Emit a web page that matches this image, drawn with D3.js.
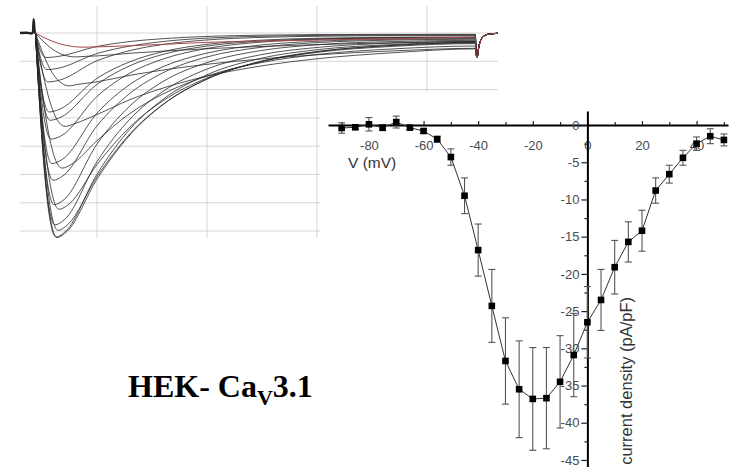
<!DOCTYPE html>
<html>
<head>
<meta charset="utf-8">
<script src="https://cdn.jsdelivr.net/npm/d3@7"></script>
<style>
body{margin:0;background:#fff;}
svg{display:block;}
</style>
</head>
<body>
<div id="chart"></div>
<script>
// ---- I-V relation (mean +/- sem) ----
var ivVoltage = [-90,-85,-80,-75,-70,-65,-60,-55,-50,-45,-40,-35,-30,-25,-20,-15,-10,-5,0,5,10,15,20,25,30,35,40,45,50];
var ivDensity = [-0.4,-0.3,0.1,-0.35,0.4,-0.35,-0.8,-1.9,-4.3,-9.5,-16.8,-24.3,-31.7,-35.5,-36.8,-36.7,-34.5,-30.9,-26.5,-23.5,-19.1,-15.7,-14.2,-8.8,-6.6,-4.4,-2.5,-1.5,-2.0];
var ivError   = [0.7,0.3,0.9,0.4,0.8,0.3,0.3,0.4,1.1,2.4,3.5,4.9,5.8,6.5,6.9,6.8,6.2,5.6,4.8,4.1,3.6,2.7,2.75,1.7,1.2,1.0,0.9,1.0,0.8];

var ivMajorX = [-80,-60,-40,-20,0,20,40];
var ivMinorX = [-90,-70,-50,-30,-10,10,30,50];
var ivMajorY = [0,-5,-10,-15,-20,-25,-30,-35,-40,-45];
var ivMinorY = [-2.5,-7.5,-12.5,-17.5,-22.5,-27.5,-32.5,-37.5,-42.5];

// ---- current traces: [time ms, current pA] ----
var gridTimes = [50,100,150,200];
var gridCurrents = [0,-200,-400,-600,-800,-1000,-1200,-1400];
var onsetArtifact = [[15,0],[18,2],[20.4,-3],[20.9,8],[21.2,98],[21.6,20],[22,0]];
var tailArtifact = [[222.4,-150],[222.8,-170],[223.6,-95],[225,-35],[227.5,-10],[232.3,-2]];

var trM55 = [[22,0],[26.3,-35],[32.8,-75],[39.3,-96],[43.6,-100],[50,-98],[65,-90],[80,-80],[100,-66],[125,-57],[150,-50],[185,-40],[222,-30]];
var trM50 = [[22,0],[25.6,-59],[31,-127],[36.4,-162],[40,-169],[44.5,-165],[50,-162],[65,-143],[80,-128],[100,-111],[125,-95],[150,-82],[185,-69],[222,-60]];
var trM45 = [[22,0],[25.1,-131],[29.6,-280],[34.2,-358],[37.3,-373],[41.8,-362],[50,-345],[65,-299],[80,-262],[100,-221],[125,-183],[150,-154],[185,-126],[222,-108]];
var trM40 = [[22,0],[24.7,-231],[28.8,-495],[32.8,-634],[35.5,-660],[40,-640],[50,-576],[65,-471],[80,-389],[100,-305],[125,-232],[150,-182],[185,-139],[222,-112]];
var trM35 = [[22,0],[24.4,-334],[28.1,-716],[31.7,-917],[34.1,-955],[38.6,-926],[50,-761],[65,-568],[80,-431],[100,-304],[125,-208],[150,-152],[185,-112],[222,-92]];
var trM30 = [[22,0],[24.1,-436],[27.4,-935],[30.6,-1196],[32.7,-1246],[37.3,-1209],[50,-930],[65,-664],[80,-479],[100,-318],[125,-201],[150,-137],[185,-94],[222,-75]];
var trM25 = [[22,0],[24.1,-488],[27.2,-1046],[30.2,-1339],[32.3,-1395],[36.8,-1353],[50,-1016],[65,-712],[80,-505],[100,-326],[125,-200],[150,-132],[185,-87],[222,-68]];
var trM20 = [[22,0],[24,-506],[26.9,-1084],[29.8,-1387],[31.8,-1445],[36.4,-1402],[50,-1033],[65,-720],[80,-506],[100,-325],[125,-198],[150,-131],[185,-87],[222,-69]];
var trM15 = [[22,0],[23.9,-505],[26.7,-1082],[29.5,-1384],[31.4,-1442],[35.9,-1399],[50,-998],[65,-679],[80,-469],[100,-295],[125,-177],[150,-118],[185,-81],[222,-66]];
var trM10 = [[22,0],[23.8,-475],[26.5,-1017],[29.1,-1302],[30.9,-1356],[35.5,-1315],[50,-909],[65,-608],[80,-413],[100,-255],[125,-152],[150,-102],[185,-71],[222,-60]];
var trM5  = [[22,0],[23.7,-425],[26.3,-911],[28.8,-1165],[30.5,-1214],[35,-1178],[50,-785],[65,-515],[80,-343],[100,-209],[125,-123],[150,-83],[185,-60],[222,-52]];
var tr0   = [[22,0],[23.6,-364],[26,-781],[28.4,-999],[30,-1041],[34.5,-1010],[50,-656],[65,-426],[80,-281],[100,-169],[125,-100],[150,-68],[185,-50],[222,-44]];
var trP5  = [[22,0],[23.5,-323],[25.8,-692],[28,-886],[29.5,-923],[34.1,-895],[50,-567],[65,-363],[80,-238],[100,-142],[125,-84],[150,-58],[185,-44],[222,-39]];
var trP10 = [[22,0],[23.4,-263],[25.6,-563],[27.7,-720],[29.1,-750],[33.6,-728],[50,-448],[65,-283],[80,-184],[100,-109],[125,-64],[150,-45],[185,-35],[222,-31]];
var trP15 = [[22,0],[23.3,-216],[25.3,-463],[27.3,-592],[28.6,-617],[33.2,-598],[50,-363],[65,-231],[80,-151],[100,-92],[125,-57],[150,-42],[185,-34],[222,-32]];
var trP20 = [[22,0],[23.2,-195],[25.1,-419],[27,-536],[28.2,-558],[32.7,-541],[50,-320],[65,-203],[80,-132],[100,-80],[125,-50],[150,-37],[185,-31],[222,-28]];
var trP25 = [[22,0],[23.1,-121],[24.9,-260],[26.6,-332],[27.7,-346],[32.3,-336],[50,-196],[65,-124],[80,-81],[100,-49],[125,-31],[150,-23],[185,-19],[222,-18]];
var trP30 = [[22,0],[23.1,-91],[24.7,-194],[26.2,-249],[27.3,-259],[31.8,-251],[50,-145],[65,-92],[80,-60],[100,-36],[125,-23],[150,-17],[185,-14],[222,-13]];
var trP35 = [[22,0],[23,-61],[24.4,-130],[25.8,-166],[26.8,-173],[31.4,-168],[50,-95],[65,-60],[80,-40],[100,-24],[125,-15],[150,-11],[185,-10],[222,-9]];

var blackTraces = [trM50,trM45,trM40,trM35,trM30,trM25,trM20,trM15,trM10,trM5,tr0,trP5,trP10,trP15,trP20,trP25,trP30,trP35];
var redTrace = trM55;

var svg = d3.select("#chart").append("svg")
    .attr("width", 735)
    .attr("height", 467);
svg.append("rect").attr("width", 735).attr("height", 467).attr("fill", "#fff");

// ===== traces panel =====
var tx = d3.scaleLinear().domain([15, 232.3]).range([20, 498]);
var ty = d3.scaleLinear().domain([191, -1449]).range([6, 238]);

var tg = svg.append("g");
tg.selectAll(".vgrid").data(gridTimes).enter().append("line")
    .attr("x1", tx).attr("x2", tx)
    .attr("y1", ty.range()[0]).attr("y2", ty.range()[1])
    .attr("stroke", "#d6d6d6").attr("stroke-width", 1);
tg.selectAll(".hgrid").data(gridCurrents).enter().append("line")
    .attr("x1", tx.range()[0]).attr("x2", tx.range()[1])
    .attr("y1", ty).attr("y2", ty)
    .attr("stroke", "#d6d6d6").attr("stroke-width", 1);

var traceLine = d3.line()
    .x(function(d){ return tx(d[0]); })
    .y(function(d){ return ty(d[1]); })
    .curve(d3.curveMonotoneX);

tg.append("path")
    .attr("d", traceLine(onsetArtifact))
    .attr("fill", "none").attr("stroke", "#222").attr("stroke-width", 2.4);

tg.selectAll(".trace").data(blackTraces).enter().append("path")
    .attr("d", function(d){ return traceLine(d.concat(tailArtifact)); })
    .attr("fill", "none")
    .attr("stroke", "#262626")
    .attr("stroke-opacity", 0.88)
    .attr("stroke-width", 0.9);

tg.append("path")
    .attr("d", traceLine(redTrace.concat(tailArtifact)))
    .attr("fill", "none").attr("stroke", "#a8454d").attr("stroke-width", 1);

// ===== I-V panel =====
svg.append("rect")
    .attr("x", 320).attr("y", 92).attr("width", 415).attr("height", 375)
    .attr("fill", "#fff");

var vx = d3.scaleLinear().domain([-95, 51.5]).range([328, 728]);
var vy = d3.scaleLinear().domain([1.9, -46]).range([110.9, 467.4]);

var ig = svg.append("g");
var fontFam = "'Liberation Sans', Arial, sans-serif";

// x axis (ticks point up, labels below)
var xAxis = ig.append("g")
    .attr("transform", "translate(0," + vy(0) + ")")
    .call(d3.axisBottom(vx)
        .tickValues(ivMajorX)
        .tickSizeInner(-4).tickSizeOuter(0).tickPadding(16)
        .tickFormat(function(d){ return String(d); }));
var xMinor = ig.append("g")
    .attr("transform", "translate(0," + vy(0) + ")")
    .call(d3.axisBottom(vx)
        .tickValues(ivMinorX)
        .tickSizeInner(-3).tickSizeOuter(0)
        .tickFormat(""));
xMinor.select(".domain").remove();

// y axis
var yAxis = ig.append("g")
    .attr("transform", "translate(" + vx(0) + ",0)")
    .call(d3.axisLeft(vy)
        .tickValues(ivMajorY)
        .tickSizeInner(6).tickSizeOuter(0).tickPadding(2)
        .tickFormat(function(d){ return String(d); }));
var yMinor = ig.append("g")
    .attr("transform", "translate(" + vx(0) + ",0)")
    .call(d3.axisLeft(vy)
        .tickValues(ivMinorY)
        .tickSizeInner(3).tickSizeOuter(0)
        .tickFormat(""));
yMinor.select(".domain").remove();

[xAxis, yAxis].forEach(function(a){
    a.select(".domain").attr("stroke", "#000").attr("stroke-width", 2);
    a.selectAll(".tick text")
        .attr("font-family", fontFam).attr("font-size", 13).attr("fill", "#4a4a4a");
});
ig.selectAll(".tick line").attr("stroke", "#222").attr("stroke-width", 1.2);

// connecting line
var ivPts = ivVoltage.map(function(v, i){ return [v, ivDensity[i], ivError[i]]; });
ig.append("path")
    .attr("d", d3.line()
        .x(function(d){ return vx(d[0]); })
        .y(function(d){ return vy(d[1]); })(ivPts))
    .attr("fill", "none").attr("stroke", "#333").attr("stroke-width", 1);

// error bars
var eb = ig.selectAll(".err").data(ivPts).enter().append("g")
    .attr("stroke", "#555").attr("stroke-width", 1.1);
eb.append("line")
    .attr("x1", function(d){ return vx(d[0]); })
    .attr("x2", function(d){ return vx(d[0]); })
    .attr("y1", function(d){ return vy(d[1] + d[2]); })
    .attr("y2", function(d){ return vy(d[1] - d[2]); });
eb.append("line")
    .attr("x1", function(d){ return vx(d[0]) - 3.5; })
    .attr("x2", function(d){ return vx(d[0]) + 3.5; })
    .attr("y1", function(d){ return vy(d[1] + d[2]); })
    .attr("y2", function(d){ return vy(d[1] + d[2]); });
eb.append("line")
    .attr("x1", function(d){ return vx(d[0]) - 3.5; })
    .attr("x2", function(d){ return vx(d[0]) + 3.5; })
    .attr("y1", function(d){ return vy(d[1] - d[2]); })
    .attr("y2", function(d){ return vy(d[1] - d[2]); });

// square markers
ig.selectAll(".pt").data(ivPts).enter().append("rect")
    .attr("x", function(d){ return vx(d[0]) - 3.3; })
    .attr("y", function(d){ return vy(d[1]) - 3.3; })
    .attr("width", 6.6).attr("height", 6.6)
    .attr("fill", "#000");

// axis titles
ig.append("text")
    .attr("x", 348).attr("y", 168)
    .attr("font-family", fontFam).attr("font-size", 15.5).attr("fill", "#333")
    .text("V (mV)");
ig.append("text")
    .attr("transform", "translate(632,297) rotate(-90)")
    .attr("text-anchor", "end")
    .attr("font-family", fontFam).attr("font-size", 16.5).attr("fill", "#333")
    .text("current density (pA/pF)");

// cell line label
var lab = svg.append("text")
    .attr("x", 128).attr("y", 397)
    .attr("font-family", "'Liberation Serif', 'Times New Roman', serif")
    .attr("font-weight", "bold").attr("font-size", 32).attr("fill", "#000");
lab.append("tspan").text("HEK- Ca");
lab.append("tspan").attr("font-size", 22).attr("dy", 8).text("V");
lab.append("tspan").attr("dy", -8).text("3.1");
</script>
</body>
</html>
